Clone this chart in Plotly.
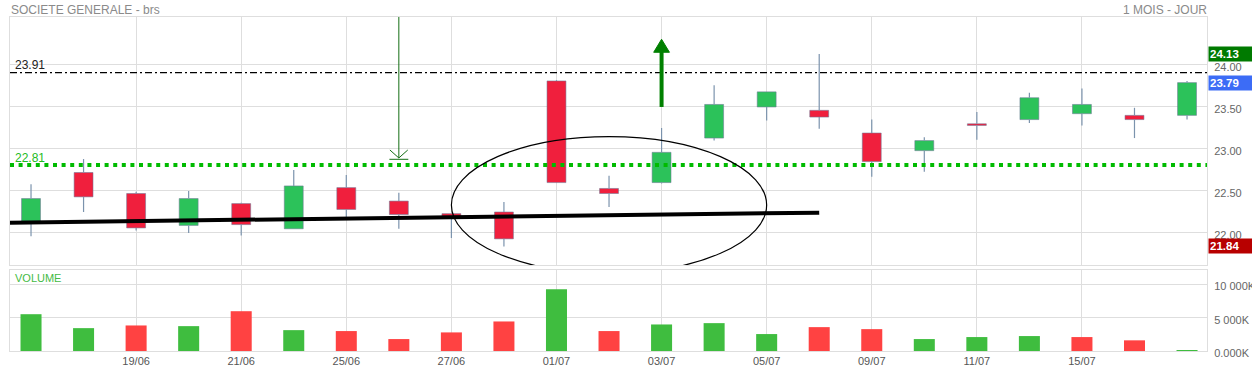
import plotly.graph_objects as go

# ---------------- data ----------------
dates = ["17/06", "18/06", "19/06", "20/06", "21/06", "24/06", "25/06", "26/06",
         "27/06", "28/06", "01/07", "02/07", "03/07", "04/07", "05/07", "08/07",
         "09/07", "10/07", "11/07", "12/07", "15/07", "16/07", "17/07"]
opens = [22.14, 22.72, 22.47, 22.09, 22.35, 22.05, 22.54, 22.38, 22.23, 22.25, 23.81, 22.53,
         22.60, 23.13, 23.50, 23.46, 23.19, 22.98, 23.30, 23.35, 23.42, 23.40, 23.40]
highs = [22.58, 22.88, 22.49, 22.50, 22.36, 22.75, 22.69, 22.48, 22.23, 22.37, 23.82, 22.68,
         23.25, 23.76, 23.68, 24.13, 23.35, 23.14, 23.44, 23.67, 23.72, 23.49, 23.81]
lows = [21.96, 22.25, 22.03, 22.00, 21.97, 22.05, 22.19, 22.05, 21.94, 21.84, 22.60, 22.31,
        22.59, 23.10, 23.34, 23.24, 22.67, 22.73, 23.11, 23.31, 23.28, 23.13, 23.35]
closes = [22.41, 22.43, 22.06, 22.41, 22.10, 22.56, 22.28, 22.22, 22.20, 21.93, 22.60, 22.47,
          22.96, 23.53, 23.68, 23.38, 22.85, 23.10, 23.28, 23.61, 23.53, 23.35, 23.79]
volumes_k = [5520, 3430, 3830, 3730, 5970, 3130, 2990, 1790, 2790, 4430, 9250, 2990,
             3980, 4180, 2540, 3580, 3280, 1790, 2090, 2240, 2090, 1600, 150]

price_ticks = [22.0, 22.5, 23.0, 23.5, 24.0]
volume_ticks = [0, 5000, 10000]
volume_ticktext = ["0.000K", "5 000K", "10 000K"]
label_every = 2
first_label = 2
last_label = 20

resistance_level = 23.91
support_level = 22.81
trend_start = (-0.4, 22.123)
trend_end = (15, 22.242)
ellipse_box = (8.0, 14.0, 21.52, 23.147)
down_arrow_x, down_arrow_tip = 7, 22.893
up_arrow_x, up_arrow_from, up_arrow_head, up_arrow_tip = 12, 23.50, 24.151, 24.306

# ---------------- styling ----------------
GREEN = "#2cc25a"
RED = "#f01f3d"
VGREEN = "#3fbd3f"
VRED = "#ff4242"
WICK = "#7b93ad"
GRID = "#dedede"
FONT = "Arial, Liberation Sans, sans-serif"

x = list(range(len(dates)))
n = len(x)

fig = go.Figure()

# wicks (two segments per candle so the body stays on top)
wx, wy = [], []
for i in range(n):
    top = max(opens[i], closes[i])
    bot = min(opens[i], closes[i])
    if highs[i] > top:
        wx += [x[i], x[i], None]
        wy += [top, highs[i], None]
    if lows[i] < bot:
        wx += [x[i], x[i], None]
        wy += [lows[i], bot, None]
fig.add_trace(go.Scatter(x=wx, y=wy, mode="lines", line=dict(color=WICK, width=1.2),
                         hoverinfo="skip", showlegend=False, xaxis="x", yaxis="y"))

# bodies
bases = [min(o, c) for o, c in zip(opens, closes)]
heights = [max(abs(c - o), 0.02) for o, c in zip(opens, closes)]
bcolors = [GREEN if c >= o else RED for o, c in zip(opens, closes)]
fig.add_trace(go.Bar(x=x, y=heights, base=bases, width=0.36,
                     marker=dict(color=bcolors, line=dict(color="rgba(110,120,150,0.55)", width=1)),
                     showlegend=False, xaxis="x", yaxis="y"))

# volume
vcolors = []
for i in range(n):
    if i == 0 or closes[i] >= closes[i - 1]:
        vcolors.append(VGREEN)
    else:
        vcolors.append(VRED)
fig.add_trace(go.Bar(x=x, y=volumes_k, width=0.4,
                     marker=dict(color=vcolors, line=dict(width=0)),
                     showlegend=False, xaxis="x2", yaxis="y2"))

tickvals = list(range(first_label, last_label + 1, label_every))
ticktext = [dates[i] for i in tickvals]

fig.update_layout(
    width=1252, height=372,
    margin=dict(l=10, r=45, t=17, b=21, autoexpand=False),
    paper_bgcolor="white", plot_bgcolor="white",
    font=dict(family=FONT, size=11, color="#555"),
    barmode="overlay",
    showlegend=False,
    xaxis=dict(domain=[0, 1], range=[-0.4, 22.38], anchor="y", tickvals=tickvals,
               ticktext=ticktext, showticklabels=False, showgrid=True, gridcolor=GRID,
               gridwidth=1, zeroline=False, showline=True, linecolor=GRID, mirror=True,
               fixedrange=True, automargin=False),
    yaxis=dict(domain=[0.2575, 1.0], range=[21.619, 24.571], side="right",
               tickvals=price_ticks, ticktext=[f"{v:.2f}" for v in price_ticks],
               showgrid=True, gridcolor=GRID, zeroline=False, showline=True,
               linecolor=GRID, mirror=True, ticks="", ticklabelstandoff=4,
               ticklabelshift=2, tickfont=dict(size=11, color="#666"), automargin=False),
    xaxis2=dict(domain=[0, 1], range=[-0.4, 22.38], anchor="y2", matches="x",
                tickvals=tickvals, ticktext=ticktext, showgrid=True, gridcolor=GRID,
                zeroline=False, showline=True, linecolor=GRID, mirror=True, ticks="",
                tickfont=dict(size=11, color="#555"), automargin=False),
    yaxis2=dict(domain=[0, 0.2425], range=[0, 12150], side="right", anchor="x2",
                tickvals=volume_ticks, ticktext=volume_ticktext, showgrid=True,
                gridcolor=GRID, zeroline=False, showline=True, linecolor=GRID,
                mirror=True, ticks="", ticklabelstandoff=4, ticklabelshift=2,
                tickfont=dict(size=11, color="#666"), automargin=False),
)

shapes = []
# resistance dash-dot line
shapes.append(dict(type="line", xref="x domain", yref="y", x0=0, x1=1,
                   y0=resistance_level, y1=resistance_level,
                   line=dict(color="black", width=1.3, dash="7px,3px,2px,3px")))
# support dotted green line
shapes.append(dict(type="line", xref="x domain", yref="y", x0=0, x1=1,
                   y0=support_level, y1=support_level,
                   line=dict(color="#00bb00", width=4, dash="4px,4.6px")))
# trend line
shapes.append(dict(type="line", xref="x", yref="y", x0=trend_start[0], y0=trend_start[1],
                   x1=trend_end[0], y1=trend_end[1], line=dict(color="black", width=4)))
# ellipse
shapes.append(dict(type="circle", xref="x", yref="y", x0=ellipse_box[0], x1=ellipse_box[1],
                   y0=ellipse_box[2], y1=ellipse_box[3], line=dict(color="black", width=1.2)))
# down arrow (thin dark green)
DG = "#136e13"
shapes.append(dict(type="line", xref="x", yref="y", x0=down_arrow_x, x1=down_arrow_x,
                   y0=24.571, y1=down_arrow_tip, line=dict(color=DG, width=1)))
shapes.append(dict(type="path", xref="x", yref="y",
                   path=f"M {down_arrow_x-0.17},{down_arrow_tip+0.095} L {down_arrow_x},{down_arrow_tip} "
                        f"L {down_arrow_x+0.17},{down_arrow_tip+0.095}",
                   line=dict(color=DG, width=1)))
shapes.append(dict(type="line", xref="x", yref="y", x0=down_arrow_x - 0.18, x1=down_arrow_x + 0.18,
                   y0=down_arrow_tip - 0.016, y1=down_arrow_tip - 0.016, line=dict(color=DG, width=1)))
# up arrow (thick green)
UG = "#008000"
shapes.append(dict(type="line", xref="x", yref="y", x0=up_arrow_x, x1=up_arrow_x,
                   y0=up_arrow_from, y1=up_arrow_head + 0.01, line=dict(color=UG, width=4)))
shapes.append(dict(type="path", xref="x", yref="y",
                   path=f"M {up_arrow_x-0.15},{up_arrow_head} L {up_arrow_x},{up_arrow_tip} "
                        f"L {up_arrow_x+0.15},{up_arrow_head} Z",
                   fillcolor=UG, line=dict(color=UG, width=1)))
fig.update_layout(shapes=shapes)

ann = []
ann.append(dict(text="SOCIETE GENERALE - brs", xref="paper", yref="paper", x=0, y=1.022,
                xanchor="left", yanchor="middle", showarrow=False, xshift=-1,
                font=dict(size=12, color="#8a8a8a", family=FONT)))
ann.append(dict(text="1 MOIS - JOUR", xref="paper", yref="paper", x=1, y=1.022,
                xanchor="right", yanchor="middle", showarrow=False, xshift=2,
                font=dict(size=12, color="#8a8a8a", family=FONT)))
ann.append(dict(text=f"{resistance_level:.2f}", xref="paper", yref="y", x=0, y=resistance_level,
                xanchor="left", yanchor="middle", yshift=8, xshift=3, showarrow=False,
                font=dict(size=12, color="#222", family=FONT)))
ann.append(dict(text=f"{support_level:.2f}", xref="paper", yref="y", x=0, y=support_level,
                xanchor="left", yanchor="middle", yshift=7, xshift=3, showarrow=False,
                font=dict(size=12, color="#22bb22", family=FONT)))
ann.append(dict(text="VOLUME", xref="paper", yref="y2 domain", x=0, y=1,
                xanchor="left", yanchor="middle", yshift=-8, xshift=3, showarrow=False,
                font=dict(size=11, color="#44bb44", family=FONT)))

hi_val = max(highs)
lo_val = min(lows)
last_val = closes[-1]
for val, bg in [(hi_val, "#007a00"), (last_val, "#3c6cf6"), (lo_val, "#b80000")]:
    ann.append(dict(text=f"<b>{val:.2f}</b>", xref="paper", yref="y", x=1, y=val,
                    xanchor="left", yanchor="middle", xshift=1, showarrow=False,
                    bgcolor=bg, width=46, align="left", borderpad=1,
                    font=dict(size=11.5, color="white", family=FONT)))
fig.update_layout(annotations=ann)

# remove the default page margin so the figure fills the window exactly; hide the modebar
fig.write_html("out.html", config={"displayModeBar": False},
               post_script="document.body.style.margin='0';")
